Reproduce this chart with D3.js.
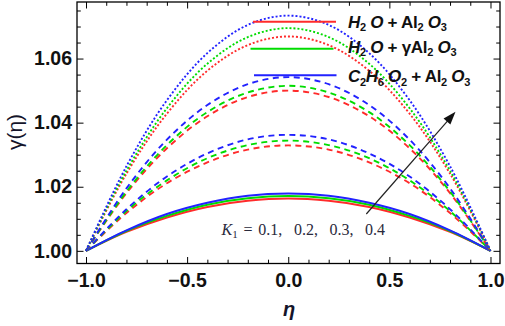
<!DOCTYPE html>
<html><head><meta charset="utf-8">
<script src="https://cdn.jsdelivr.net/npm/d3@7"></script>
<style>
html,body{margin:0;padding:0;background:#fff;}
svg{display:block;}
</style></head>
<body>
<svg id="c" width="505" height="326"></svg>
<script>
// ---- data ----
const eta = [-1, -0.8, -0.6, -0.4, -0.2, 0, 0.2, 0.4, 0.6, 0.8, 1];
// K1 = 0.1 (solid)
const red1   = [1.0000, 1.0059, 1.0104, 1.0137, 1.0156, 1.0163, 1.0156, 1.0137, 1.0104, 1.0059, 1.0000];
const green1 = [1.0000, 1.0062, 1.0109, 1.0144, 1.0164, 1.0171, 1.0164, 1.0144, 1.0109, 1.0062, 1.0000];
const blue1  = [1.0000, 1.0064, 1.0115, 1.0150, 1.0172, 1.0179, 1.0172, 1.0150, 1.0115, 1.0064, 1.0000];
// K1 = 0.2 (dashed)
const red2   = [1.0000, 1.0118, 1.0211, 1.0276, 1.0316, 1.0329, 1.0316, 1.0276, 1.0211, 1.0118, 1.0000];
const green2 = [1.0000, 1.0124, 1.0220, 1.0289, 1.0330, 1.0344, 1.0330, 1.0289, 1.0220, 1.0124, 1.0000];
const blue2  = [1.0000, 1.0130, 1.0232, 1.0304, 1.0348, 1.0362, 1.0348, 1.0304, 1.0232, 1.0130, 1.0000];
// K1 = 0.3 (dashed)
const red3   = [1.0000, 1.0180, 1.0320, 1.0420, 1.0480, 1.0500, 1.0480, 1.0420, 1.0320, 1.0180, 1.0000];
const green3 = [1.0000, 1.0185, 1.0330, 1.0433, 1.0494, 1.0515, 1.0494, 1.0433, 1.0330, 1.0185, 1.0000];
const blue3  = [1.0000, 1.0195, 1.0347, 1.0455, 1.0520, 1.0542, 1.0520, 1.0455, 1.0347, 1.0195, 1.0000];
// K1 = 0.4 (dotted)
const red4   = [1.0000, 1.0241, 1.0428, 1.0562, 1.0642, 1.0669, 1.0642, 1.0562, 1.0428, 1.0241, 1.0000];
const green4 = [1.0000, 1.0250, 1.0445, 1.0584, 1.0667, 1.0695, 1.0667, 1.0584, 1.0445, 1.0250, 1.0000];
const blue4  = [1.0000, 1.0264, 1.0470, 1.0617, 1.0705, 1.0734, 1.0705, 1.0617, 1.0470, 1.0264, 1.0000];

const xTicks = [-1.0, -0.5, 0.0, 0.5, 1.0];
const xTickLabels = ["\u22121.0", "\u22120.5", "0.0", "0.5", "1.0"];
const yTicks = [1.00, 1.02, 1.04, 1.06];
const yTickLabels = ["1.00", "1.02", "1.04", "1.06"];

const fluidNames = [
  [["H","i"],["2","s"],[" ","n"],["O","i"],[" + Al","n"],["2","s"],[" ","n"],["O","i"],["3","s"]],
  [["H","i"],["2","s"],[" ","n"],["O","i"],[" + \u03b3Al","n"],["2","s"],[" ","n"],["O","i"],["3","s"]],
  [["C","i"],["2","s"],["H","i"],["6","s"],[" ","n"],["O","i"],["2","s"],[" + Al","n"],["2","s"],[" ","n"],["O","i"],["3","s"]]
];
const k1Values = ["0.1", "0.2", "0.3", "0.4"];
const arrowFrom = [0.386, 1.0115];
const arrowTo = [0.827, 1.0434];
const k1LabelPos = [-0.33, 1.0049];

// ---- styles ----
const colors = ["#ff2b2b", "#00dc00", "#2222ff"];
const dashes = [null, "6,4.5", "6,4.5", "2,2"];

const svg = d3.select("#c");
const L = 77, R = 500, T = 2, B = 263.5;
const x = d3.scaleLinear().domain([-1.0445, 1.047]).range([L, R]);
const y = d3.scaleLinear().domain([0.99605, 1.07765]).range([B, T]);

const groups = [[red1, green1, blue1],[red2, green2, blue2],[red3, green3, blue3],[red4, green4, blue4]];
const line = d3.line().x(d => x(d[0])).y(d => y(d[1])).curve(d3.curveCatmullRom.alpha(0.5));

const curves = svg.append("g");
groups.forEach((g, gi) => {
  g.forEach((vals, ci) => {
    curves.append("path")
      .attr("d", line(eta.map((e, i) => [e, vals[i]])))
      .attr("fill", "none")
      .attr("stroke", colors[ci])
      .attr("stroke-width", gi === 0 ? 2 : 1.9)
      .attr("stroke-dasharray", dashes[gi]);
  });
});

// ---- axes ----
const fontTick = "Liberation Sans, Arial, sans-serif";
const xMinor = d3.range(-10, 11).map(i => i / 10).filter(v => Math.abs(v * 2 - Math.round(v * 2)) > 1e-6);
const yMinor = d3.range(0, 16).map(i => 1 + i * 0.005).filter(v => Math.abs(v * 50 - Math.round(v * 50)) > 1e-6);

function styleAxis(g) {
  g.select(".domain").remove();
  g.selectAll(".tick line").attr("stroke", "#000").attr("stroke-width", 1);
  g.selectAll("text").attr("font-family", fontTick).attr("font-weight", "bold").attr("font-size", 19.5).attr("fill", "#111");
}
const fmtX = d => xTickLabels[xTicks.indexOf(d)];
const fmtY = d => yTickLabels[yTicks.findIndex(v => Math.abs(v - d) < 1e-9)];

svg.append("g").attr("transform", `translate(0,${B})`)
  .call(d3.axisBottom(x).tickValues(xTicks).tickFormat(fmtX).tickSize(-6.5).tickPadding(9.3)).call(styleAxis);
svg.append("g").attr("transform", `translate(0,${B})`)
  .call(d3.axisBottom(x).tickValues(xMinor).tickFormat("").tickSize(-3.8)).call(styleAxis);
svg.append("g").attr("transform", `translate(0,${T})`)
  .call(d3.axisTop(x).tickValues(xTicks).tickFormat("").tickSize(-6.5)).call(styleAxis);
svg.append("g").attr("transform", `translate(0,${T})`)
  .call(d3.axisTop(x).tickValues(xMinor).tickFormat("").tickSize(-3.8)).call(styleAxis);

svg.append("g").attr("transform", `translate(${L},0)`)
  .call(d3.axisLeft(y).tickValues(yTicks).tickFormat(fmtY).tickSize(-6.5).tickPadding(5)).call(styleAxis);
svg.append("g").attr("transform", `translate(${L},0)`)
  .call(d3.axisLeft(y).tickValues(yMinor).tickFormat("").tickSize(-3.8)).call(styleAxis);
svg.append("g").attr("transform", `translate(${R},0)`)
  .call(d3.axisRight(y).tickValues(yTicks).tickFormat("").tickSize(-6.5)).call(styleAxis);
svg.append("g").attr("transform", `translate(${R},0)`)
  .call(d3.axisRight(y).tickValues(yMinor).tickFormat("").tickSize(-3.8)).call(styleAxis);

svg.append("rect").attr("x", L).attr("y", T).attr("width", R - L).attr("height", B - T)
  .attr("fill", "none").attr("stroke", "#000").attr("stroke-width", 1.3);

// axis titles
svg.append("text").attr("transform", "translate(21.5,132) rotate(-90)")
  .attr("text-anchor", "middle").attr("font-family", fontTick).attr("font-size", 21)
  .attr("fill", "#14142a").text("\u03b3(\u03b7)");
svg.append("text").attr("x", 289).attr("y", 316)
  .attr("text-anchor", "middle").attr("font-family", fontTick).attr("font-size", 20)
  .attr("font-style", "italic").attr("font-weight", "bold").attr("fill", "#14142a").text("\u03b7");

// ---- legend ----
const legY = [21.7, 48.7, 75.3];
const legBase = [27.5, 52.5, 82];
const legX1 = [253, 250.5, 254], legX2 = [336, 333.5, 336.5];
fluidNames.forEach((segs, i) => {
  svg.append("line").attr("x1", legX1[i]).attr("x2", legX2[i]).attr("y1", legY[i]).attr("y2", legY[i])
    .attr("stroke", colors[i]).attr("stroke-width", 2);
  const t = svg.append("text").attr("x", 348).attr("y", legBase[i])
    .attr("font-family", fontTick).attr("font-weight", "bold").attr("font-size", 17).attr("fill", "#111")
    .attr("letter-spacing", -0.3).style("white-space", "pre");
  let sub = false;
  segs.forEach(([txt, k]) => {
    const ts = t.append("tspan").text(txt);
    if (k === "i") ts.attr("font-style", "italic");
    if (k === "s") { ts.attr("font-size", 11); if (!sub) ts.attr("dy", 3.5); sub = true; }
    else if (sub) { ts.attr("dy", -3.5); sub = false; }
  });
});

// ---- K1 annotation ----
const kt = svg.append("text").attr("x", x(k1LabelPos[0])).attr("y", y(k1LabelPos[1]))
  .attr("font-family", "Liberation Serif, Times New Roman, serif").attr("font-size", 16)
  .attr("fill", "#2a2a3c").attr("word-spacing", 1.8).style("white-space", "pre");
kt.append("tspan").attr("font-style", "italic").text("K");
kt.append("tspan").attr("font-size", 11).attr("dy", 3).text("1");
kt.append("tspan").attr("dy", -3).text(" = " + k1Values.join(",  "));

// ---- arrow ----
const ax1 = x(arrowFrom[0]), ay1 = y(arrowFrom[1]), ax2 = x(arrowTo[0]), ay2 = y(arrowTo[1]);
const ang = Math.atan2(ay2 - ay1, ax2 - ax1);
const hl = 13, hw = 4.5;
const bx = ax2 - hl * Math.cos(ang), by = ay2 - hl * Math.sin(ang);
svg.append("line").attr("x1", ax1).attr("y1", ay1).attr("x2", bx + 2 * Math.cos(ang)).attr("y2", by + 2 * Math.sin(ang))
  .attr("stroke", "#222").attr("stroke-width", 1.2);
svg.append("path").attr("d", `M${ax2},${ay2}L${bx - hw * Math.sin(ang)},${by + hw * Math.cos(ang)}L${bx + hw * Math.sin(ang)},${by - hw * Math.cos(ang)}Z`)
  .attr("fill", "#111");
</script>
</body></html>
